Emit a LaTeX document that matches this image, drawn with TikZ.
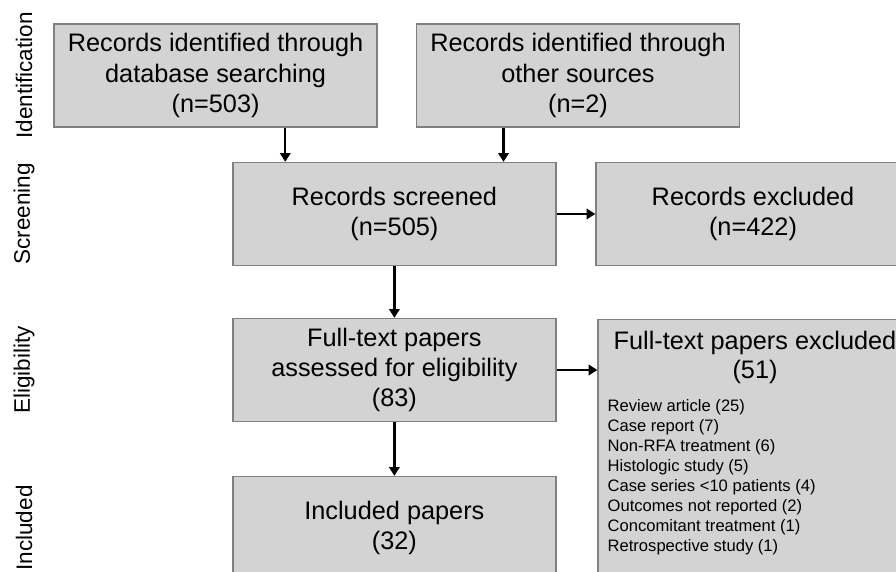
\documentclass[tikz,border=0pt]{standalone}
\usepackage{fontspec}
\setmainfont{Liberation Sans}
\usetikzlibrary{arrows.meta}
\definecolor{boxfill}{RGB}{211,211,211}
\definecolor{boxline}{RGB}{128,128,128}

\begin{document}
\begin{tikzpicture}[
  box/.style={rectangle, draw=boxline, line width=0.9pt, fill=boxfill, align=center,
    minimum width=8.075cm, minimum height=2.575cm, inner sep=0pt,
    font=\fontsize{18}{21.6}\selectfont},
  sidebox/.style={box, minimum width=7.85cm},
  phase/.style={rotate=90, font=\fontsize{16}{19}\selectfont},
  flow/.style={line width=1.6pt, -{Triangle[length=0.22cm, width=0.26cm]}}
]
  \clip (0,0) rectangle (22.4,14.3);

  % PHASES
  \node [phase] (identification) at (0.6,12.41) {Identification};
  \node [phase] (screening) at (0.6,8.95) {Screening};
  \node [phase] (eligibility) at (0.6,5.05) {Eligibility};
  \node [phase] (includedphase) at (0.6,1.1) {Included};

  % TOP
  \node [box] (db) at (5.39,12.41) {Records identified through\\database searching\\(n=503)};
  \node [box] (other) at (14.45,12.41) {Records identified through\\other sources\\(n=2)};

  % SCREENING
  \node [box] (screened) at (9.86,8.95) {Records screened\\(n=505)};
  \node [sidebox] (excl) at (18.825,8.95) {Records excluded\\(n=422)};

  % ELIGIBILITY
  \node [box] (fulltext) at (9.86,5.05) {Full-text papers\\assessed for eligibility\\(83)};
  \node [sidebox, anchor=north, minimum height=7.5cm] (fullexcl) at (18.875,6.325) {};
  \node [anchor=north, align=center, inner sep=0pt, font=\fontsize{18}{21}\selectfont]
    (fullexcltitle) at ([yshift=-0.29cm]fullexcl.north) {Full-text papers excluded\\(51)};
  \node [anchor=north west, align=left, inner sep=0pt, font=\fontsize{11.8}{14.2}\selectfont]
    (reasons) at ([xshift=0.25cm, yshift=-2.0cm]fullexcl.north west)
    {Review article (25)\\Case report (7)\\Non-RFA treatment (6)\\Histologic study (5)\\
     Case series <10 patients (4)\\Outcomes not reported (2)\\Concomitant treatment (1)\\
     Retrospective study (1)};

  % BOTTOM
  \node [box] (included) at (9.86,1.1) {Included papers\\(32)};

  % ARROWS
  \coordinate (inL) at ([xshift=1.325cm]screened.north west);
  \coordinate (inR) at ([xshift=-1.325cm]screened.north east);
  \draw [flow] (db.south -| inL) -- (inL);
  \draw [flow] (other.south -| inR) -- (inR);
  \draw [flow] (screened.east) -- (excl.west);
  \draw [flow] (screened.south) -- (fulltext.north);
  \draw [flow] (fulltext.east) -- (fulltext.east -| fullexcl.west);
  \draw [flow] (fulltext.south) -- (included.north);

\end{tikzpicture}
\end{document}
